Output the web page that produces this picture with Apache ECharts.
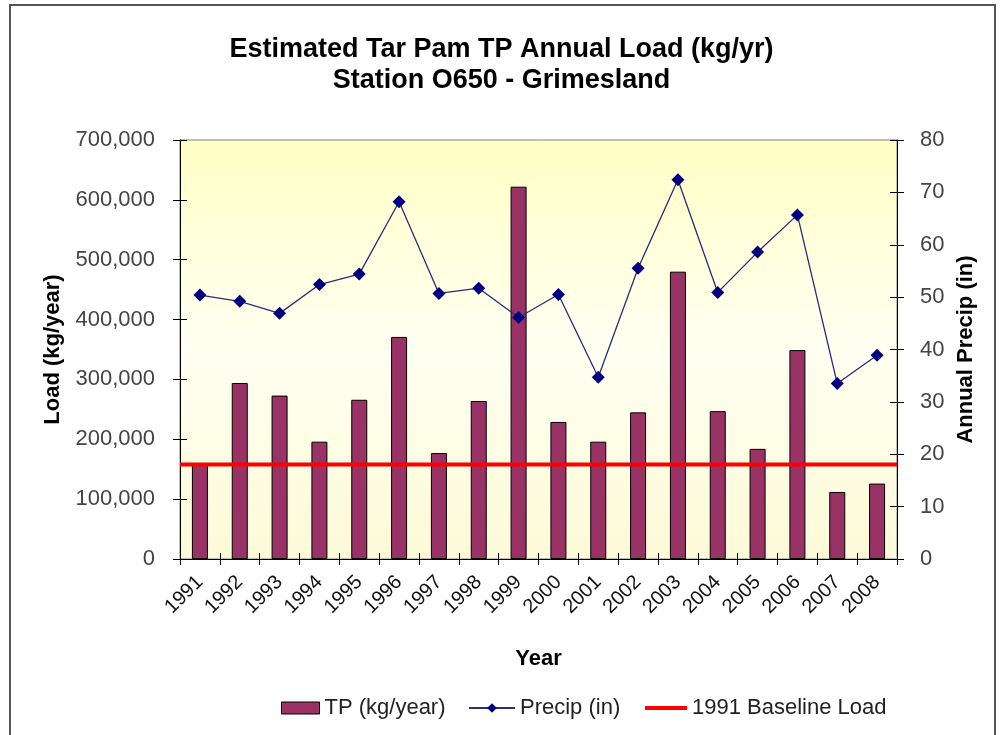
<!DOCTYPE html>
<html>
<head>
<meta charset="utf-8">
<script src="https://cdn.jsdelivr.net/npm/echarts@6/dist/echarts.min.js"></script>
<style>
  html, body { margin: 0; padding: 0; background: #ffffff; }
  #chart { width: 1003px; height: 735px; }
</style>
</head>
<body>
<div id="chart"></div>
<script>
// Station O650 (Grimesland) annual loads and precipitation
const years = ['1991','1992','1993','1994','1995','1996','1997','1998','1999',
               '2000','2001','2002','2003','2004','2005','2006','2007','2008'];
const tpLoad = [158000, 294000, 273000, 196000, 266000, 371000, 177000, 264000, 622000,
                229000, 196000, 245000, 480000, 247000, 184000, 349000, 112000, 126000];
const precip = [50.4, 49.2, 46.9, 52.4, 54.4, 68.2, 50.7, 51.7, 46.1,
                50.5, 34.7, 55.5, 72.4, 50.9, 58.6, 65.7, 33.5, 38.9];
const baselineLoad = [158000];

const FONT = '"Liberation Sans", Arial, sans-serif';
const chart = echarts.init(document.getElementById('chart'));

const loadAxisBase = {
  type: 'value', min: 0, max: 700000, interval: 100000, position: 'left',
  splitLine: { show: false }
};
const precipAxisBase = {
  type: 'value', min: 0, max: 80, interval: 10, position: 'right',
  splitLine: { show: false }
};

chart.setOption({
  animation: false,
  title: {
    text: 'Estimated Tar Pam TP Annual Load (kg/yr)\nStation O650 - Grimesland',
    left: 'center', top: 29,
    textStyle: { fontFamily: FONT, fontSize: 27, fontWeight: 'bold', color: '#000', lineHeight: 31 }
  },
  graphic: [{
    type: 'rect', shape: { x: 10, y: 5, width: 985, height: 740 },
    style: { fill: null, stroke: '#555', lineWidth: 2 }, silent: true, z: 100
  }],
  grid: {
    left: 180, right: 106, top: 140, bottom: 176,
    show: true, borderColor: '#808080', borderWidth: 1,
    backgroundColor: new echarts.graphic.LinearGradient(0, 0, 0, 1, [
      { offset: 0, color: '#FFFFC6' },
      { offset: 0.5, color: '#FFFFF2' },
      { offset: 1, color: '#FCFAD6' }
    ])
  },
  legend: [
    { data: ['TP (kg/year)'], left: 276, top: 692, icon: 'rect', itemWidth: 38, itemHeight: 12,
      itemStyle: { borderColor: '#000', borderWidth: 1 },
      textStyle: { fontFamily: FONT, fontSize: 22, color: '#222' } },
    { data: ['Precip (in)'], left: 463, top: 692, itemWidth: 46, itemHeight: 12,
      textStyle: { fontFamily: FONT, fontSize: 22, color: '#222' } },
    { data: ['1991 Baseline Load'], left: 640, top: 692, icon: 'rect', itemWidth: 42, itemHeight: 4,
      textStyle: { fontFamily: FONT, fontSize: 22, color: '#222' } }
  ],
  xAxis: [
    {
      type: 'category', data: years, boundaryGap: true,
      name: 'Year', nameLocation: 'middle', nameGap: 89,
      nameTextStyle: { fontFamily: FONT, fontSize: 22, fontWeight: 'bold', color: '#000' },
      axisLine: { lineStyle: { color: '#000', width: 1 } },
      axisTick: { show: true, inside: false, length: 6, lineStyle: { color: '#000' } },
      axisLabel: { rotate: 45, fontFamily: FONT, fontSize: 20, color: '#111', margin: 20, interval: 0 }
    },
    {
      // inner half of the crossing tick marks
      type: 'category', data: years, boundaryGap: true, position: 'bottom',
      axisLine: { show: false },
      axisTick: { show: true, inside: true, length: 6, lineStyle: { color: '#000' } },
      axisLabel: { show: false }
    },
    {
      // full-width axis for the baseline rule
      type: 'value', min: 0, max: 1, show: false
    }
  ],
  yAxis: [
    Object.assign({}, loadAxisBase, {
      name: 'Load (kg/year)', nameLocation: 'middle', nameGap: 116, nameRotate: 90,
      nameTextStyle: { fontFamily: FONT, fontSize: 22, fontWeight: 'bold', color: '#000' },
      axisLine: { show: true, lineStyle: { color: '#000' } },
      axisTick: { show: true, length: 7, lineStyle: { color: '#000' } },
      axisLabel: {
        fontFamily: FONT, fontSize: 22, color: '#444', margin: 25,
        formatter: v => v.toLocaleString('en-US')
      }
    }),
    Object.assign({}, precipAxisBase, {
      name: 'Annual Precip (in)', nameLocation: 'middle', nameGap: 55, nameRotate: 90,
      nameTextStyle: { fontFamily: FONT, fontSize: 22, fontWeight: 'bold', color: '#000', verticalAlign: 'bottom' },
      axisLine: { show: true, lineStyle: { color: '#000' } },
      axisTick: { show: true, length: 7, lineStyle: { color: '#000' } },
      axisLabel: { fontFamily: FONT, fontSize: 22, color: '#444', margin: 23 }
    }),
    Object.assign({}, loadAxisBase, {
      axisLine: { show: false }, axisLabel: { show: false },
      axisTick: { show: true, inside: true, length: 7, lineStyle: { color: '#000' } }
    }),
    Object.assign({}, precipAxisBase, {
      axisLine: { show: false }, axisLabel: { show: false },
      axisTick: { show: true, inside: true, length: 7, lineStyle: { color: '#000' } }
    })
  ],
  series: [
    {
      name: 'TP (kg/year)', type: 'bar', data: tpLoad,
      xAxisIndex: 0, yAxisIndex: 0, barWidth: 16,
      itemStyle: { color: '#993366', borderColor: '#000', borderWidth: 1 }
    },
    {
      name: 'Precip (in)', type: 'line', data: precip,
      xAxisIndex: 0, yAxisIndex: 1,
      symbol: 'diamond', symbolSize: 13,
      lineStyle: { color: '#2B2B7A', width: 1.3 },
      itemStyle: { color: '#000080' },
      z: 5
    },
    {
      name: '1991 Baseline Load', type: 'line',
      data: [[0, baselineLoad[0]], [1, baselineLoad[0]]],
      xAxisIndex: 2, yAxisIndex: 0,
      symbol: 'none',
      lineStyle: { color: '#FF0000', width: 4 },
      itemStyle: { color: '#FF0000' },
      z: 4
    }
  ]
});
</script>
</body>
</html>
